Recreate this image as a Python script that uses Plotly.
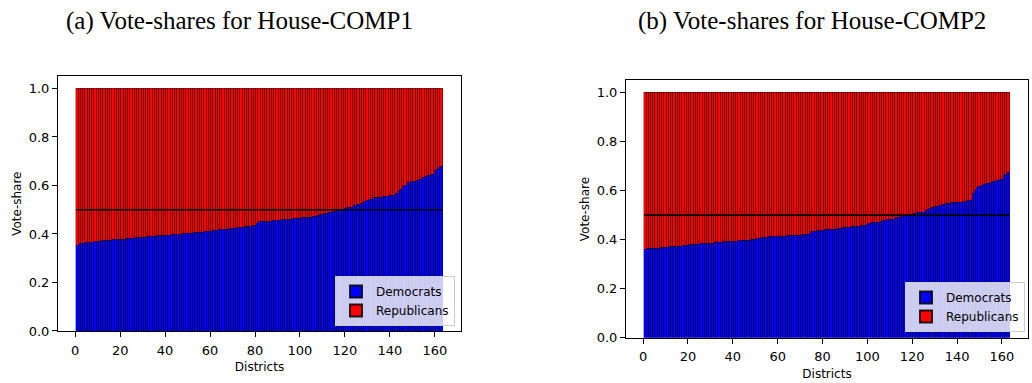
import plotly.graph_objects as go

# ---------------- data ----------------
districts = list(range(1, 164))

dem_comp1 = [
    0.355,
    0.361, 0.362, 0.363,
    0.365, 0.366, 0.366, 0.367,
    0.368, 0.369,
    0.371, 0.372,
    0.374, 0.375, 0.375, 0.375,
    0.376, 0.376, 0.377, 0.377, 0.377,
    0.379, 0.380,
    0.382, 0.383, 0.383, 0.384,
    0.385, 0.386, 0.386, 0.387,
    0.389, 0.390, 0.390, 0.391, 0.391,
    0.393, 0.394, 0.395, 0.395, 0.396, 0.396,
    0.398, 0.399, 0.399, 0.400, 0.400, 0.401,
    0.402, 0.403, 0.403, 0.404,
    0.405, 0.406, 0.406, 0.407, 0.407,
    0.409, 0.410, 0.411,
    0.414, 0.415, 0.416, 0.417, 0.417, 0.418, 0.419,
    0.421, 0.422, 0.423, 0.424,
    0.427, 0.428, 0.429, 0.429, 0.430, 0.431,
    0.433, 0.435, 0.436,
    0.445,
    0.450, 0.451, 0.452, 0.452, 0.453, 0.453,
    0.455, 0.456, 0.456, 0.457,
    0.460, 0.461, 0.461, 0.462, 0.462, 0.463, 0.463, 0.464,
    0.466, 0.467, 0.468, 0.468, 0.469, 0.470,
    0.473, 0.474,
    0.478, 0.480, 0.481,
    0.485, 0.487, 0.488,
    0.491, 0.493,
    0.497, 0.498, 0.499, 0.500,
    0.507, 0.508, 0.509, 0.510,
    0.516,
    0.520, 0.522,
    0.527, 0.529,
    0.535, 0.537,
    0.542, 0.544,
    0.549, 0.550, 0.551,
    0.553, 0.554, 0.555,
    0.557, 0.558, 0.559, 0.560,
    0.566,
    0.578, 0.583,
    0.598, 0.602,
    0.611, 0.614,
    0.617, 0.618, 0.619,
    0.624, 0.626,
    0.634, 0.637,
    0.641, 0.642, 0.644,
    0.662, 0.666,
    0.673, 0.678,
]

dem_comp2 = [
    0.362,
    0.363, 0.364, 0.364, 0.365,
    0.366, 0.367, 0.368,
    0.369, 0.370, 0.371,
    0.372, 0.372, 0.373,
    0.374, 0.375, 0.375, 0.376,
    0.378, 0.379,
    0.381, 0.381, 0.382, 0.382, 0.383,
    0.384, 0.384, 0.385,
    0.386, 0.387, 0.387, 0.388, 0.388,
    0.390, 0.391, 0.392,
    0.393, 0.393, 0.394, 0.394, 0.395, 0.395,
    0.396, 0.396, 0.397,
    0.398, 0.399, 0.400,
    0.402, 0.403, 0.404,
    0.406, 0.408,
    0.411, 0.411, 0.412, 0.412, 0.413, 0.413, 0.413,
    0.414, 0.415, 0.415, 0.416, 0.416,
    0.418, 0.419, 0.419, 0.420, 0.420,
    0.422, 0.423, 0.423, 0.424,
    0.434, 0.435, 0.436,
    0.439, 0.440, 0.440, 0.441, 0.441, 0.442, 0.442, 0.443, 0.443,
    0.447, 0.448, 0.449, 0.449, 0.450, 0.450,
    0.454, 0.455, 0.456, 0.456, 0.457, 0.457,
    0.460, 0.462,
    0.467, 0.469,
    0.472, 0.473, 0.473, 0.474,
    0.480, 0.481, 0.482, 0.483, 0.484, 0.485,
    0.491, 0.493,
    0.497, 0.498, 0.499, 0.500,
    0.502, 0.504,
    0.509, 0.510, 0.511, 0.512, 0.513,
    0.520, 0.522,
    0.529, 0.531,
    0.535, 0.537,
    0.541, 0.542, 0.543,
    0.548, 0.549, 0.550, 0.551,
    0.552, 0.553, 0.554, 0.554, 0.555, 0.556,
    0.560, 0.562,
    0.589,
    0.602,
    0.615, 0.618,
    0.622, 0.624,
    0.629, 0.631, 0.633,
    0.637, 0.639, 0.641,
    0.646, 0.648,
    0.663, 0.667,
    0.676,
]

rep_comp1 = [1 - v for v in dem_comp1]
rep_comp2 = [1 - v for v in dem_comp2]
threshold = 0.5

titles = ["(a) Vote-shares for House-COMP1", "(b) Vote-shares for House-COMP2"]
x_ticks = [0, 20, 40, 60, 80, 100, 120, 140, 160]
y_ticks = [0.0, 0.2, 0.4, 0.6, 0.8, 1.0]

# ---------------- figure ----------------
W, H = 1032, 383
fig = go.Figure()

BLUE = "#0000ff"
RED = "#ff0000"
EDGE = dict(color="rgba(0,0,0,0.85)", width=0.4)

panels = [
    (dem_comp1, rep_comp1, "x", "y", "legend"),
    (dem_comp2, rep_comp2, "x2", "y2", "legend2"),
]
for dem, rep, xa, ya, lg in panels:
    fig.add_trace(go.Bar(x=districts, y=dem, name="Democrats", marker=dict(color=BLUE, line=EDGE),
                         width=1, xaxis=xa, yaxis=ya, legend=lg))
    fig.add_trace(go.Bar(x=districts, y=rep, name="Republicans", marker=dict(color=RED, line=EDGE),
                         width=1, xaxis=xa, yaxis=ya, legend=lg))
    fig.add_trace(go.Scatter(x=[districts[0] - 0.5, districts[-1] + 0.5], y=[threshold, threshold],
                             mode="lines", line=dict(color="black", width=1.6), showlegend=False,
                             xaxis=xa, yaxis=ya, hoverinfo="skip"))

tick_font = dict(family="DejaVu Sans", size=13, color="black")
title_font = dict(family="DejaVu Sans", size=12, color="black")

def xaxis(domain, anchor):
    return dict(domain=domain, anchor=anchor, range=[-7.65, 171.65], tickmode="array", tickvals=x_ticks,
                showline=True, mirror=True, linecolor="black", linewidth=1, ticks="outside", ticklen=5,
                tickwidth=1, tickcolor="black", tickfont=tick_font, showgrid=False, zeroline=False,
                ticklabelstandoff=2,
                title=dict(text="Districts", font=title_font, standoff=6))

def yaxis(domain, anchor):
    return dict(domain=domain, anchor=anchor, range=[0, 1.05], tickmode="array", tickvals=y_ticks,
                tickformat=".1f", showline=True, mirror=True, linecolor="black", linewidth=1,
                ticks="outside", ticklen=5, tickwidth=1, tickcolor="black", tickfont=tick_font,
                showgrid=False, zeroline=False, title=dict(text="Vote-share", font=title_font, standoff=4))

legend_style = dict(bgcolor="rgba(255,255,255,0.8)", bordercolor="#cccccc", borderwidth=1,
                    font=dict(family="DejaVu Sans", size=12, color="black"), traceorder="normal",
                    xref="paper", yref="paper", xanchor="right", yanchor="bottom",
                    itemsizing="constant", tracegroupgap=0)

fig.update_layout(
    width=W, height=H,
    margin=dict(l=0, r=0, t=0, b=0),
    paper_bgcolor="white", plot_bgcolor="white",
    barmode="stack", bargap=0,
    showlegend=True,
    xaxis=xaxis([58 / W, 461 / W], "y"),
    yaxis=yaxis([1 - 338 / H, 1 - 78 / H], "x"),
    xaxis2=xaxis([626 / W, 1028 / W], "y2"),
    yaxis2=yaxis([1 - 345 / H, 1 - 82 / H], "x2"),
    legend=dict(x=455 / W, y=1 - 333 / H, **legend_style),
    legend2=dict(x=1025 / W, y=1 - 339 / H, **legend_style),
    annotations=[
        dict(text=titles[0], x=239 / W, y=1 - 21 / H, xref="paper", yref="paper", showarrow=False,
             xanchor="center", yanchor="middle", font=dict(family="Liberation Serif", size=25, color="black")),
        dict(text=titles[1], x=812 / W, y=1 - 21 / H, xref="paper", yref="paper", showarrow=False,
             xanchor="center", yanchor="middle", font=dict(family="Liberation Serif", size=25, color="black")),
    ],
)

fig.write_html("out.html")
